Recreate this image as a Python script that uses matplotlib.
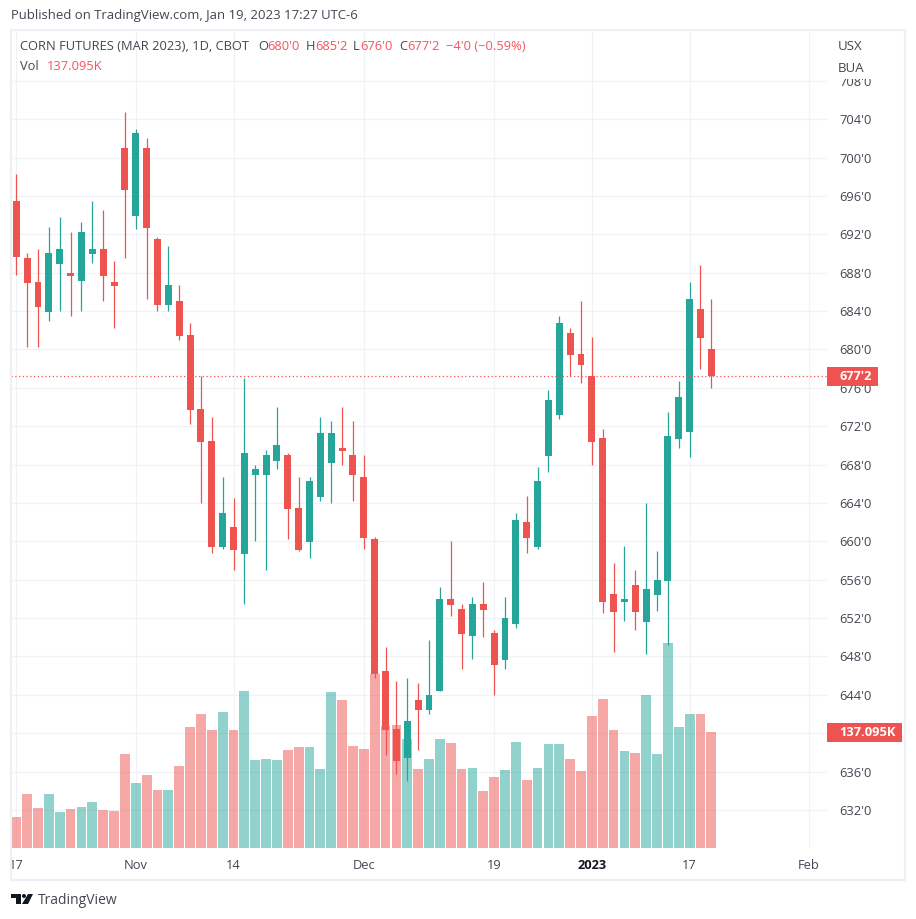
import numpy as np
import matplotlib
matplotlib.use("Agg")
import matplotlib.pyplot as plt
from matplotlib.patches import Rectangle, Polygon, Circle
from matplotlib.transforms import Bbox

RED = "#ef5350"
LEGEND_RED = "#f7525f"
TEAL = "#26a69a"
GRID = "#f1f2f5"
FRAME = "#eff0f5"
TEXT = "#434651"

opens = [695.48, 689.50, 687.00, 683.94, 688.91, 687.94, 687.17, 689.95, 690.44, 687.00,
         701.00, 693.91, 701.00, 691.52, 684.64, 685.05, 681.51, 673.80, 670.46, 659.41,
         661.50, 658.68, 666.92, 666.92, 668.38, 669.00, 663.48, 659.93, 664.62, 668.17,
         669.73, 669.00, 666.71, 660.24, 646.48, 640.44, 637.42, 643.46, 642.42, 644.40,
         653.99, 652.95, 650.13, 653.47, 650.45, 647.63, 651.38, 662.02, 659.41, 668.90,
         673.17, 681.72, 679.53, 677.24, 670.77, 654.51, 653.68, 655.45, 651.59, 654.41,
         655.87, 670.67, 671.40, 684.22, 680.00]
highs = [698.29, 690.03, 690.47, 692.74, 693.78, 692.25, 693.29, 695.48, 694.54, 689.22,
         704.76, 702.98, 702.04, 691.69, 690.79, 686.72, 682.76, 677.24, 672.96, 666.71,
         664.52, 677.03, 667.96, 669.52, 674.00, 669.21, 666.71, 666.71, 672.96, 672.54,
         674.00, 672.54, 669.00, 660.45, 648.99, 645.44, 645.76, 645.23, 649.72, 655.24,
         660.04, 653.47, 654.20, 655.76, 650.76, 654.20, 662.95, 664.73, 667.75, 675.78,
         683.49, 682.24, 685.05, 681.30, 671.71, 657.74, 659.51, 657.01, 664.00, 658.99,
         673.48, 676.71, 687.03, 688.81, 685.25]
lows = [687.76, 680.26, 680.26, 682.97, 684.01, 683.49, 684.01, 689.01, 685.05, 682.24,
        689.54, 692.56, 685.26, 684.01, 684.01, 680.99, 672.23, 664.00, 658.79, 659.20,
        657.01, 653.47, 660.04, 657.01, 667.54, 660.24, 658.99, 658.26, 664.21, 664.00,
        667.96, 664.21, 659.20, 645.76, 637.73, 635.75, 635.02, 638.25, 642.00, 644.40,
        652.22, 646.69, 647.74, 650.03, 643.98, 646.69, 650.97, 658.79, 659.20, 667.23,
        672.75, 677.24, 676.51, 667.96, 652.53, 648.47, 651.70, 650.76, 648.26, 652.74,
        649.20, 669.73, 668.79, 677.97, 676.00]
closes = [689.67, 686.96, 684.46, 690.03, 690.44, 687.69, 692.25, 690.44, 687.69, 686.65,
          696.62, 702.57, 692.66, 684.64, 686.72, 681.40, 673.69, 670.36, 659.41, 662.95,
          659.10, 669.21, 667.54, 669.00, 670.04, 663.37, 659.10, 666.29, 671.29, 671.29,
          669.42, 666.92, 660.35, 646.17, 640.33, 637.10, 641.27, 642.42, 643.98, 653.99,
          653.36, 650.34, 653.47, 652.84, 647.11, 652.01, 662.23, 660.35, 666.29, 674.73,
          682.76, 679.42, 678.38, 670.36, 653.68, 652.64, 653.99, 652.64, 655.03, 655.97,
          670.98, 675.05, 685.26, 681.20, 677.25]
volumes = [36.6, 63.8, 47.3, 63.8, 42.5, 46.1, 48.5, 54.4, 44.9, 43.7,
           111.1, 76.8, 86.3, 68.5, 68.5, 96.9, 143.0, 158.4, 139.5, 160.7,
           139.5, 185.5, 104.0, 105.2, 104.0, 115.8, 119.4, 119.4, 93.4, 184.4,
           174.9, 120.5, 117.0, 205.6, 144.2, 145.4, 128.8, 93.4, 105.2, 128.8,
           124.1, 93.4, 94.5, 67.4, 83.9, 92.2, 125.3, 80.4, 94.5, 122.9,
           122.9, 105.2, 91.0, 156.0, 176.1, 139.5, 114.6, 112.3, 180.8, 111.1,
           242.3, 143.0, 158.4, 158.4, 137.095]
down = [True, True, True, False, False, True, False, False, True, True,
        True, False, True, True, False, True, True, True, True, False,
        True, False, False, False, False, True, True, False, False, False,
        True, True, True, True, True, True, False, True, False, False,
        True, True, False, True, True, False, False, True, False, False,
        False, True, True, True, True, True, False, True, False, False,
        False, False, False, True, True]

price_ticks = list(range(632, 709, 4))
date_pos = [0, 11, 20, 32, 44, 53, 62, 73]
date_labels = ["17", "Nov", "14", "Dec", "19", "2023", "17", "Feb"]
last_close = 677.25
last_volume = 137.095


def fmt_price(p):
    # cbot style, eighths after the tick mark
    whole = int(p)
    return f"{whole}'{int(round((p - whole) * 8))}"


W, H = 916, 919
plt.rcParams["font.family"] = "Open Sans"
fig = plt.figure(figsize=(W / 100, H / 100), dpi=100, facecolor="white")

ax = fig.add_axes([11 / W, 1 - 848 / H, 816 / W, 817 / H])
ax.set_xlim(-0.488, 74.65)
ax.set_ylim(628.03, 713.2)
ax.set_axisbelow(True)
for s in ax.spines.values():
    s.set_visible(False)

ax.yaxis.tick_right()
ax.set_yticks(price_ticks)
# 640 sits fully behind the volume tag, so it gets no label
ax.set_yticklabels(["" if p == 640 else fmt_price(p) for p in price_ticks])
ax.set_xticks(date_pos)
ax.set_xticklabels(date_labels)
ax.tick_params(axis="both", length=0, labelsize=9.3, labelcolor=TEXT)
ax.tick_params(axis="y", pad=9)
ax.tick_params(axis="x", pad=8)
ax.grid(True, color=GRID, lw=0.85)
ax.get_xticklabels()[5].set_fontweight("bold")
ax.get_xticklabels()[5].set_color("#131722")

# first date label gets cut by the pane edge
ax.get_xticklabels()[0].set_clip_box(Bbox([[11, 0], [W, H]]))
ax.get_xticklabels()[0].set_clip_on(True)

xs = np.arange(len(opens))
colors = [RED if d else TEAL for d in down]
vol_top = 965.5
ax.bar(xs, np.array(volumes) / vol_top, width=0.9, color=colors, alpha=0.5,
       transform=ax.get_xaxis_transform(), zorder=2, lw=0)
ax.vlines(xs, lows, highs, colors=colors, lw=0.9, zorder=3)
bottoms = np.minimum(opens, closes)
heights = np.abs(np.array(opens) - np.array(closes))
ax.bar(xs, heights, bottom=bottoms, width=0.64, color=colors, lw=0, zorder=3)
ax.axhline(last_close, color=RED, lw=0.9, ls=(0, (1, 2)), zorder=4)
ax.set_xlim(-0.488, 74.65)
ax.set_ylim(628.03, 713.2)

# outer frame
fig.add_artist(Rectangle((11 / W, 1 - 880 / H), 894 / W, 850 / H, fill=False,
                         ec=FRAME, lw=1.6, transform=fig.transFigure))

# white backing of the currency block, hides the top of the 708 label
fig.add_artist(Rectangle((828 / W, 1 - 79 / H), 75 / W, 47 / H, fc="white", ec="none",
                         transform=fig.transFigure, zorder=5))
fig.text(838 / W, 1 - 46 / H, "USX", fontsize=9.5, color=TEXT, va="center", zorder=6)
fig.text(838 / W, 1 - 68 / H, "BUA", fontsize=9.5, color=TEXT, va="center", zorder=6)

# last value tags
fig.add_artist(Rectangle((827 / W, 1 - 386 / H), 51 / W, 19 / H, fc=RED, ec="none",
                         transform=fig.transFigure, zorder=5))
fig.text(839 / W, 1 - 376.5 / H, fmt_price(last_close), fontsize=9.2, color="white",
         va="center", fontweight="bold", zorder=6)
fig.add_artist(Rectangle((827 / W, 1 - 742 / H), 75 / W, 19 / H, fc=RED, ec="none",
                         transform=fig.transFigure, zorder=5))
fig.text(839 / W, 1 - 732.5 / H, f"{last_volume:.3f}K", fontsize=9.3, color="white",
         va="center", fontweight="bold", zorder=6)

# header and legend
fig.text(11 / W, 1 - 16 / H, "Published on TradingView.com, Jan 19, 2023 17:27 UTC-6",
         fontsize=9.45, color=TEXT, va="center")
fig.text(20 / W, 1 - 47 / H, "CORN FUTURES (MAR 2023), 1D, CBOT", fontsize=9.3,
         color=TEXT, va="center")
legend_parts = [(258, "O", TEXT), (267.5, "680'0", LEGEND_RED), (306, "H", TEXT),
                (315, "685'2", LEGEND_RED), (353, "L", TEXT), (360.5, "676'0", LEGEND_RED),
                (399, "C", TEXT), (407, "677'2", LEGEND_RED),
                (445.5, "\u22124'0 (\u22120.59%)", LEGEND_RED)]
for left, label, c in legend_parts:
    fig.text(left / W, 1 - 47 / H, label, fontsize=9.3, color=c, va="center")
fig.text(20 / W, 1 - 66 / H, "Vol", fontsize=9.3, color=TEXT, va="center")
fig.text(47 / W, 1 - 66 / H, f"{last_volume:.3f}K", fontsize=9.3, color=LEGEND_RED, va="center")

# logo
fig.text(38 / W, 1 - 900 / H, "TradingView", fontsize=10, color=TEXT, va="center")
logo_tf = fig.dpi_scale_trans


def px(x, y):
    return (x / 100, (H - y) / 100)


fig.add_artist(Polygon([px(11, 894), px(21, 894), px(21, 904), px(16, 904), px(16, 898), px(11, 898)],
                       fc="#131722", ec="none", transform=logo_tf))
fig.add_artist(Circle(px(24, 896), 0.02, fc="#131722", ec="none", transform=logo_tf))
fig.add_artist(Polygon([px(33, 894), px(28, 894), px(22, 904), px(28, 904)],
                       fc="#131722", ec="none", transform=logo_tf))

fig.savefig("out.png", dpi=100)
